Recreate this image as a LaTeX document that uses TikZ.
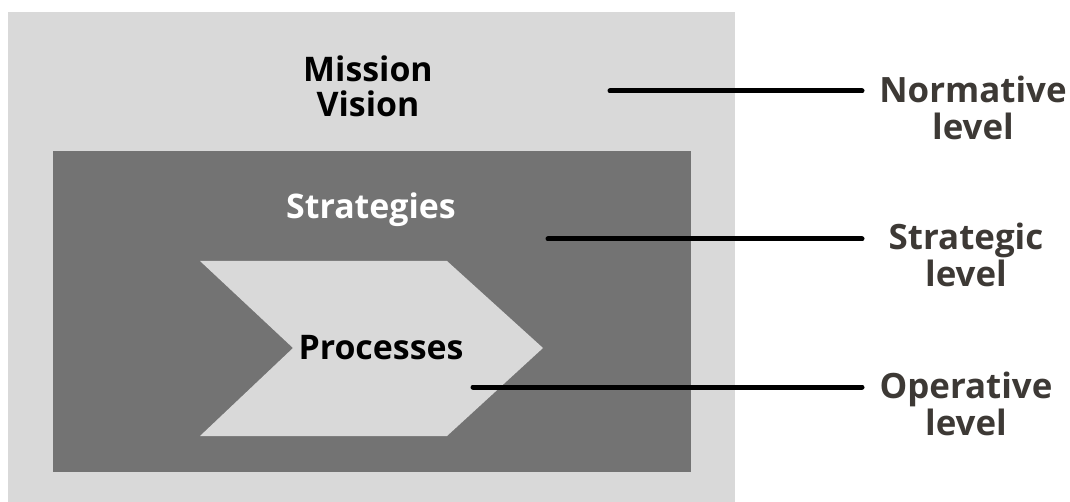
\documentclass[tikz,border=0pt]{standalone}
\usepackage{fontspec}
\setmainfont{Open Sans}
\definecolor{lightg}{HTML}{D9D9D9}
\definecolor{darkg}{HTML}{737373}
\definecolor{labelc}{HTML}{3D3935}
\begin{document}
\begin{tikzpicture}[x=1bp,y=-1bp,
  lbl/.style={font=\fontsize{35}{37}\selectfont\bfseries, text=labelc, align=center, inner sep=0pt},
  inlbl/.style={font=\fontsize{34}{35}\selectfont\bfseries, align=center, inner sep=0pt},
  leader/.style={line width=5bp, line cap=round, black}]
\useasboundingbox (0,0) rectangle (1070,502);
\fill[white] (0,0) rectangle (1070,502);
% outer and inner areas
\fill[lightg] (8,12) rectangle (735,502);
\fill[darkg] (53,151) rectangle (691,472);
% chevron
\fill[lightg] (200,261) -- (447,261) -- (543,348) -- (447,436) -- (200,436) -- (293,348) -- cycle;
% texts inside
\node[inlbl, text=black] (mission) at (368,86) {Mission\\Vision};
\node[inlbl, text=white] (strat) at (371,210) {Strategies};
\node[inlbl, text=black] (proc) at (381,348) {Processes};
% right labels
\node[lbl] (norm) at (973,108) {Normative\\level};
\node[lbl] (strl) at (966,255) {Strategic\\level};
\node[lbl] (oper) at (966,404) {Operative\\level};
% leader lines
\coordinate (n0) at (610,91);
\coordinate (n1) at (862,91);
\coordinate (s0) at (548,239);
\coordinate (s1) at (862,239);
\coordinate (o0) at (473,387);
\coordinate (o1) at (862,387);
\draw[leader] (n0) -- (n1);
\draw[leader] (s0) -- (s1);
\draw[leader] (o0) -- (o1);
\end{tikzpicture}
\end{document}
